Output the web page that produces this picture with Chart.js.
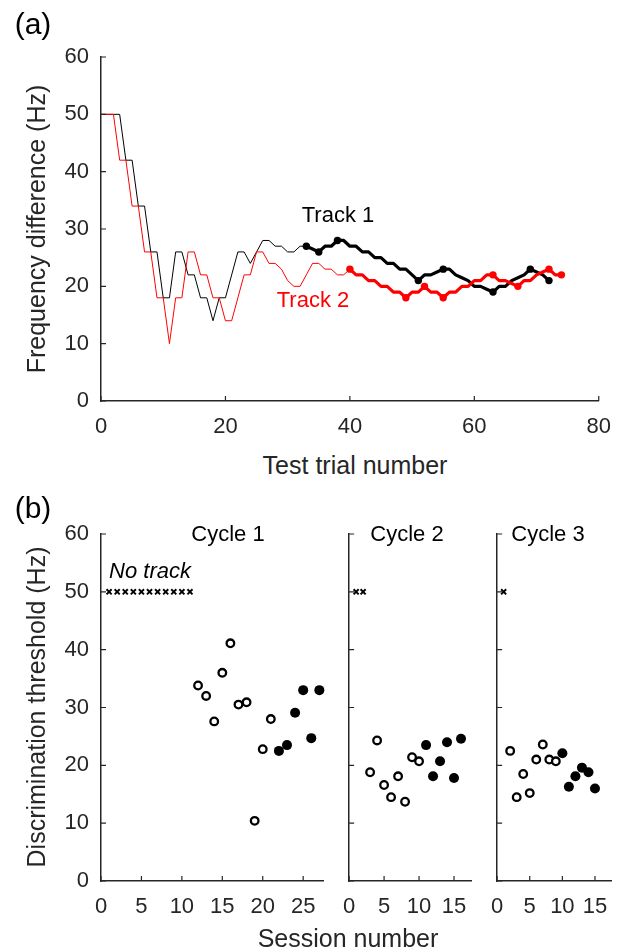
<!DOCTYPE html>
<html><head><meta charset="utf-8">
<script src="https://cdn.jsdelivr.net/npm/chart.js@4"></script>
<style>
html,body{margin:0;padding:0;background:#fff;}
#wrap{position:relative;width:624px;height:949px;overflow:hidden;font-family:'Liberation Sans',Arial,Helvetica,sans-serif;color:#262626;}
canvas{position:absolute;}
.t{position:absolute;white-space:nowrap;transform:translate(-50%,-50%);line-height:normal;}
.rot{transform:translate(-50%,-50%) rotate(-90deg);}
</style></head><body>
<div id="wrap">
<canvas id="ca" style="left:0;top:0" width="624" height="445"></canvas>
<canvas id="c1" style="left:0;top:490px" width="345" height="440"></canvas>
<canvas id="c2" style="left:330px;top:490px" width="150" height="440"></canvas>
<canvas id="c3" style="left:478px;top:490px" width="146" height="440"></canvas>
<div class="t" style="left:33px;top:24px;font-size:30px;color:#000">(a)</div>
<div class="t" style="left:33px;top:508px;font-size:30px;color:#000">(b)</div>
<div class="t rot" style="left:36px;top:229px;font-size:25px">Frequency difference (Hz)</div>
<div class="t rot" style="left:36px;top:707px;font-size:25px">Discrimination threshold (Hz)</div>
<div class="t" style="left:355px;top:465px;font-size:25px">Test trial number</div>
<div class="t" style="left:348px;top:938px;font-size:25px">Session number</div>
<div class="t" style="left:338px;top:215px;font-size:22px;color:#000">Track 1</div>
<div class="t" style="left:313px;top:300px;font-size:22px;color:#ff0000">Track 2</div>
<div class="t" style="left:228px;top:534px;font-size:22px;color:#000">Cycle 1</div>
<div class="t" style="left:407px;top:534px;font-size:22px;color:#000">Cycle 2</div>
<div class="t" style="left:548px;top:534px;font-size:22px;color:#000">Cycle 3</div>
<div class="t" style="left:150px;top:571px;font-size:22px;font-style:italic;color:#000">No track</div>
</div>
<script>
// ---------- Panel (a) data: value at each test trial (index = trial number) ----------
const track1 = [50,50,50,50,42,42,34,34,26,26,18,18,26,26,22,22,18,18,14,18,18,22,26,26,24,26,28,28,27,27,26,26,27,27,26.5,26,27,27,28,28,27,27,26,26,25,25,24,24,23,23,22,21,22,22,22.5,23,23,22,21.5,21,20,20,19.5,19,20,20,21,21.5,22,23,22.5,22,21];
const track2 = [50,50,50,42,42,34,34,26,26,18,18,10,18,18,26,26,22,22,18,18,14,14,18,22,22,26,26,24,24,23,21,20,20,22,24,24,23,23,22,22,23,22,22,21,21,20,20,19,19,18,19,19,20,19,19,18,19,19,20,20,21,21,22,22,21,21,20.5,20,21,21,22,22.5,23,22,22];
const track1Reversals = [33,35,38,51,55,63,69,72];
const track2Reversals = [40,49,52,55,63,67,72,74];
const track1ThickFrom = 33;
const track2ThickFrom = 40;
const aTicksX = [0,20,40,60,80];
const aTicksY = [0,10,20,30,40,50,60];

// ---------- Panel (b) data ----------
const c1NoTrackSessions = [1,2,3,4,5,6,7,8,9,10,11];
const c1NoTrackValues   = [50,50,50,50,50,50,50,50,50,50,50];
const c1OpenSessions = [12,13,14,15,16,17,18,19,20,21];
const c1OpenValues   = [33.8,32.0,27.6,36.0,41.1,30.5,30.9,10.4,22.8,28.0];
const c1FilledSessions = [22,23,24,25,26,27];
const c1FilledValues   = [22.5,23.5,29.1,33.0,24.7,33.0];

const c2NoTrackSessions = [1,2];
const c2NoTrackValues   = [50,50];
const c2OpenSessions = [3,4,5,6,7,8,9,10];
const c2OpenValues   = [18.8,24.3,16.6,14.5,18.1,13.7,21.4,20.7];
const c2FilledSessions = [11,12,13,14,15,16];
const c2FilledValues   = [23.5,18.1,20.7,24.0,17.8,24.6];

const c3NoTrackSessions = [1];
const c3NoTrackValues   = [50];
const c3OpenSessions = [2,3,4,5,6,7,8,9];
const c3OpenValues   = [22.5,14.5,18.5,15.2,21.0,23.6,21.0,20.7];
const c3FilledSessions = [10,11,12,13,14,15];
const c3FilledValues   = [22.1,16.3,18.1,19.6,18.8,16.0];

const bTicksX1 = [0,5,10,15,20,25];
const bTicksX23 = [0,5,10,15];
const bTicksY = [0,10,20,30,40,50,60];

// ---------- helpers ----------
const AX = '#262626';
const FONT = "'Liberation Sans', Arial, Helvetica, sans-serif";
const pts = (xs, ys) => xs.map((x, i) => ({x, y: ys[i]}));
const seriesPts = (vals, from, to) => vals.map((v, i) => ({x: i, y: v})).filter(p => p.x >= from && p.x <= to);

const inTicks = {
  id: 'inTicks',
  afterDraw(chart) {
    const {ctx, chartArea: a} = chart;
    const xs = chart.scales.x, ys = chart.scales.y;
    ctx.save();
    ctx.strokeStyle = AX; ctx.lineWidth = 1.2;
    ctx.beginPath();
    xs.ticks.forEach(t => { const p = xs.getPixelForValue(t.value); ctx.moveTo(p, a.bottom); ctx.lineTo(p, a.bottom - 5); });
    ys.ticks.forEach(t => { const p = ys.getPixelForValue(t.value); ctx.moveTo(a.left, p); ctx.lineTo(a.left + 5, p); });
    ctx.stroke();
    ctx.restore();
  }
};

function makeChart(id, c) {
  return new Chart(document.getElementById(id), {
    type: 'scatter',
    data: {datasets: c.datasets},
    options: {
      responsive: false, animation: false, devicePixelRatio: 1, events: [],
      layout: {padding: c.pad},
      plugins: {legend: {display: false}, tooltip: {enabled: false}},
      scales: {
        x: {
          type: 'linear', min: c.xMin, max: c.xMax,
          afterBuildTicks: s => { s.ticks = c.xTicks.map(v => ({value: v})); },
          afterFit: s => { s.height = c.xHeight; },
          grid: {display: false, drawTicks: false},
          border: {display: true, color: AX, width: 1.5},
          ticks: {font: {family: FONT, size: 22}, color: AX, padding: 13, maxRotation: 0, autoSkip: false}
        },
        y: {
          type: 'linear', min: 0, max: 60,
          afterBuildTicks: s => { s.ticks = c.yTicks.map(v => ({value: v})); },
          afterFit: s => { s.width = c.yWidth; },
          grid: {display: false, drawTicks: false},
          border: {display: true, color: AX, width: 1.5},
          ticks: {display: c.showYLabels, font: {family: FONT, size: 22}, color: AX, padding: 12, autoSkip: false}
        }
      }
    },
    plugins: [inTicks]
  });
}

const lineDs = (data, color, w) => ({data, showLine: true, borderColor: color, borderWidth: w, pointRadius: 0, borderJoinStyle: 'round', tension: 0, clip: false});
const dotDs = (data, color) => ({data, showLine: false, pointRadius: 3.7, pointBackgroundColor: color, pointBorderWidth: 0, clip: false});

// ---------- Panel (a) ----------
makeChart('ca', {
  pad: {left: 0, top: 57, right: 13, bottom: 0},
  xMin: 0, xMax: 80, xTicks: aTicksX, yTicks: aTicksY, yWidth: 101, xHeight: 44, showYLabels: true,
  datasets: [
    dotDs(track2Reversals.map(t => ({x: t, y: track2[t]})), '#ff0000'),
    lineDs(seriesPts(track2, track2ThickFrom, track2.length - 1), '#ff0000', 3.2),
    lineDs(seriesPts(track2, 0, track2ThickFrom), '#ff0000', 1),
    dotDs(track1Reversals.map(t => ({x: t, y: track1[t]})), '#000000'),
    lineDs(seriesPts(track1, track1ThickFrom, track1.length - 1), '#000000', 3.2),
    lineDs(seriesPts(track1, 0, track1ThickFrom), '#000000', 1)
  ]
});

// ---------- Panel (b) ----------
const crossDs = data => ({data, pointStyle: 'crossRot', pointRadius: 3.6, borderColor: '#000', borderWidth: 1.9, clip: false});
const openDs = data => ({data, pointStyle: 'circle', pointRadius: 3.8, backgroundColor: '#fff', borderColor: '#000', borderWidth: 2.3, clip: false});
const fillDs = data => ({data, pointStyle: 'circle', pointRadius: 5, backgroundColor: '#000', borderColor: '#000', borderWidth: 0, clip: false});

makeChart('c1', {
  pad: {left: 0, top: 44, right: 21.6, bottom: 0},
  xMin: 0, xMax: 27.5, xTicks: bTicksX1, yTicks: bTicksY, yWidth: 101, xHeight: 49, showYLabels: true,
  datasets: [crossDs(pts(c1NoTrackSessions, c1NoTrackValues)), openDs(pts(c1OpenSessions, c1OpenValues)), fillDs(pts(c1FilledSessions, c1FilledValues))]
});
makeChart('c2', {
  pad: {left: 0, top: 44, right: 8.5, bottom: 0},
  xMin: 0, xMax: 17.5, xTicks: bTicksX23, yTicks: bTicksY, yWidth: 12.3, xHeight: 49, showYLabels: false,
  datasets: [crossDs(pts(c2NoTrackSessions, c2NoTrackValues)), openDs(pts(c2OpenSessions, c2OpenValues)), fillDs(pts(c2FilledSessions, c2FilledValues))]
});
makeChart('c3', {
  pad: {left: 0, top: 44, right: 12.7, bottom: 0},
  xMin: 0, xMax: 17.5, xTicks: bTicksX23, yTicks: bTicksY, yWidth: 11.8, xHeight: 49, showYLabels: false,
  datasets: [crossDs(pts(c3NoTrackSessions, c3NoTrackValues)), openDs(pts(c3OpenSessions, c3OpenValues)), fillDs(pts(c3FilledSessions, c3FilledValues))]
});
</script>
</body></html>
